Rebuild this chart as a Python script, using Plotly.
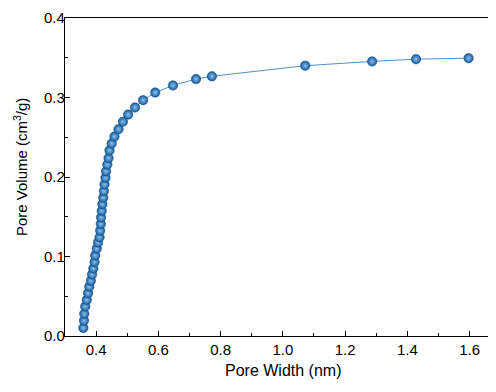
import plotly.graph_objects as go

pore_width = [0.359, 0.361, 0.362, 0.365, 0.370, 0.374, 0.378, 0.383, 0.387, 0.391,
              0.395, 0.397, 0.402, 0.406, 0.411, 0.413, 0.415, 0.416, 0.418, 0.420,
              0.423, 0.425, 0.427, 0.430, 0.432, 0.436, 0.440, 0.443, 0.450, 0.459,
              0.472, 0.486, 0.503, 0.525, 0.551, 0.590, 0.647, 0.721, 0.772, 1.072,
              1.287, 1.428, 1.597]
pore_volume = [0.0102, 0.0193, 0.0280, 0.0371, 0.0454, 0.0538, 0.0620, 0.0694, 0.0774, 0.0849,
               0.0931, 0.1014, 0.1098, 0.1176, 0.1242, 0.1325, 0.1409, 0.1491, 0.1574, 0.1658,
               0.1740, 0.1823, 0.1907, 0.1989, 0.2072, 0.2156, 0.2238, 0.2334, 0.2420, 0.2508,
               0.2601, 0.2695, 0.2785, 0.2875, 0.2966, 0.3062, 0.3152, 0.3232, 0.3267, 0.3400,
               0.3454, 0.3482, 0.3495]

x_ticks = [0.4, 0.6, 0.8, 1.0, 1.2, 1.4, 1.6]
y_ticks = [0.0, 0.1, 0.2, 0.3, 0.4]
x_title = "Pore Width (nm)"
y_title = "Pore Volume (cm<sup>3</sup>/g)"

fig = go.Figure()
fig.add_trace(go.Scatter(
    x=pore_width, y=pore_volume, mode="lines+markers",
    line=dict(color="#4f8fc8", width=1),
    marker=dict(size=9.5, color="#14599a",
                gradient=dict(type="radial", color="#8cc2ee"),
                line=dict(width=0.5, color="#0e4c88")),
    showlegend=False,
))

font = "Liberation Sans, Arial, sans-serif"
fig.update_layout(
    width=496, height=392,
    margin=dict(l=57, r=8, t=10, b=64),
    plot_bgcolor="white", paper_bgcolor="white",
    font=dict(family=font, size=15, color="black"),
    annotations=[
        dict(text=x_title, xref="paper", yref="paper", x=0.505, y=-0.108,
             xanchor="center", yanchor="middle", showarrow=False, font=dict(size=16)),
        dict(text=y_title, xref="paper", yref="paper", x=-0.103, y=0.53,
             xanchor="center", yanchor="middle", textangle=-90, showarrow=False,
             font=dict(size=15)),
    ],
)
fig.update_xaxes(
    range=[0.3, 1.685], tickvals=x_ticks, ticktext=[f"{v:.1f}" for v in x_ticks],
    ticks="inside", ticklen=5, tickwidth=1, tickcolor="black",
    minor=dict(ticks="inside", ticklen=3, dtick=0.1, tick0=0.3, tickcolor="black"),
    showline=True, linecolor="black", linewidth=1.2, mirror=True,
    showgrid=False, zeroline=False, automargin=False, ticklabeloverflow="allow",
)
fig.update_yaxes(
    range=[0, 0.4], tickvals=y_ticks, ticktext=[f"{v:.1f}" for v in y_ticks],
    ticks="inside", ticklen=5, tickwidth=1, tickcolor="black",
    minor=dict(ticks="inside", ticklen=3, dtick=0.05, tick0=0, tickcolor="black"),
    showline=True, linecolor="black", linewidth=1.2, mirror=False,
    showgrid=False, zeroline=False, automargin=False, ticklabelstandoff=-4,
    ticklabeloverflow="allow",
)
fig.write_html("out.html")
